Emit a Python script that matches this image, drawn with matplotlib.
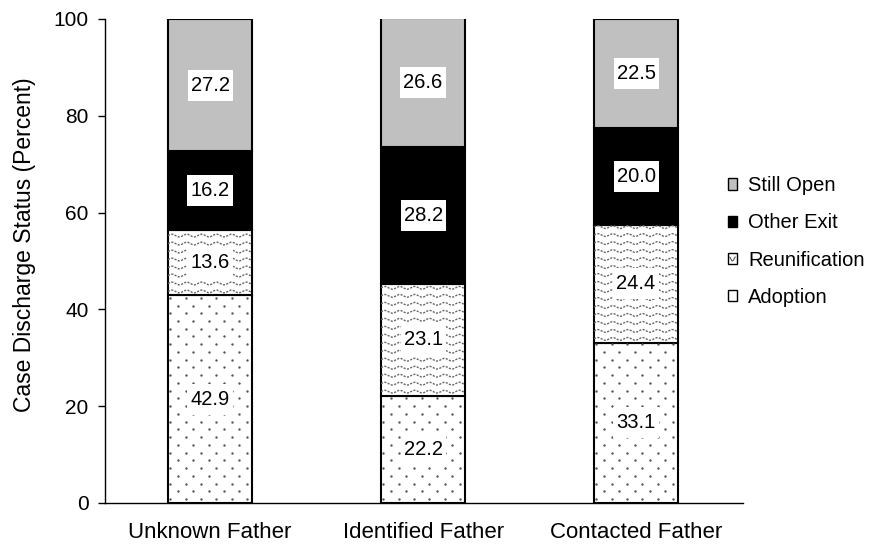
import numpy as np
import matplotlib.pyplot as plt
from matplotlib.patches import Patch, Rectangle
from matplotlib.lines import Line2D
from matplotlib.path import Path
from matplotlib.legend_handler import HandlerBase

plt.rcParams['font.family'] = ['Liberation Sans', 'DejaVu Sans']

groups = ['Unknown Father', 'Identified Father', 'Contacted Father']
adoption = [42.9, 22.2, 33.1]
reunification = [13.6, 23.1, 24.4]
other_exit = [16.2, 28.2, 20.0]
still_open = [27.2, 26.6, 22.5]

fig = plt.figure(figsize=(8.71, 5.5), dpi=100)
ax = fig.add_axes([0.1206, 0.0855, 0.7325, 0.88])

x = np.arange(len(groups))
w = 0.394
bottom = np.zeros(len(groups))

# adoption: white bars filled with a staggered grid of small grey dots
b_ad = ax.bar(x, adoption, w, bottom=bottom, color='white', edgecolor='black',
              linewidth=1.5, zorder=2)
for rect, h in zip(b_ad, adoption):
    x0 = rect.get_x()
    for k, yy in enumerate(np.arange(0.8, h, 1.6)):
        xs = np.arange(x0 + 0.01 + (k % 2) * 0.036, x0 + w, 0.072)
        pts = ax.scatter(xs, np.full(len(xs), yy), s=3, color='#555555',
                         linewidths=0, zorder=2.5)
        pts.set_clip_path(rect)
bottom += adoption

# reunification: wavy grey lines clipped to each bar
b_re = ax.bar(x, reunification, w, bottom=bottom, color='white', edgecolor='black',
              linewidth=1.5, zorder=2)
for rect, b0, h in zip(b_re, bottom, reunification):
    xx = np.linspace(rect.get_x(), rect.get_x() + w, 200)
    for yy in np.arange(b0 + 0.8, b0 + h + 1, 1.65):
        line, = ax.plot(xx, yy + 0.28 * np.sin(2 * np.pi * (xx - rect.get_x()) / 0.07),
                        color='#666666', lw=1.0, ls=(0, (1.5, 1)), zorder=2.5)
        line.set_clip_path(rect)
bottom += reunification

b_oe = ax.bar(x, other_exit, w, bottom=bottom, color='black', edgecolor='black',
              linewidth=1.5, zorder=2)
bottom += other_exit

b_so = ax.bar(x, still_open, w, bottom=bottom, color='#C0C0C0', edgecolor='black',
              linewidth=1.5, zorder=2)


def label_box(x0, y0, width, height, mutation_size):
    # white box, narrow at the sides and taller above and below
    px, py = 0.15 * mutation_size, 0.3 * mutation_size
    return Path([(x0 - px, y0 - py), (x0 + width + px, y0 - py),
                 (x0 + width + px, y0 + height + py), (x0 - px, y0 + height + py),
                 (x0 - px, y0 - py)], closed=True)


base = np.zeros(len(groups))
for vals in [adoption, reunification, other_exit, still_open]:
    for i, v in enumerate(vals):
        ax.text(x[i], base[i] + v / 2, f'{v:.1f}', ha='center', va='center',
                fontsize=14.5, zorder=5,
                bbox=dict(boxstyle=label_box, facecolor='white', edgecolor='none'))
    base += vals

ax.set_xlim(-0.493, 2.502)
ax.set_ylim(0, 100)
ax.set_yticks([0, 20, 40, 60, 80, 100])
ax.set_xticks(x)
ax.set_xticklabels(groups, fontsize=16)
ax.tick_params(axis='y', labelsize=15, direction='out', length=5, width=1, pad=7)
ax.tick_params(axis='x', length=0, pad=14)
ax.set_ylabel('Case Discharge Status (Percent)', fontsize=16.5, va='center')
ax.yaxis.set_label_coords(-0.127, 0.533)
for s in ['top', 'right']:
    ax.spines[s].set_visible(False)
for s in ['left', 'bottom']:
    ax.spines[s].set_linewidth(1)


class WaveSquare(HandlerBase):
    def create_artists(self, legend, orig_handle, xdescent, ydescent,
                       width, height, fontsize, trans):
        r = Rectangle((-xdescent, -ydescent), width, height, facecolor='white',
                      edgecolor='black', lw=1, transform=trans)
        xs = np.linspace(-xdescent + 1.5, -xdescent + width - 1.5, 20)
        ys = -ydescent + height * 0.45 + height * 0.18 * np.sin(xs / width * 2 * np.pi * 1.5)
        ln = Line2D(xs, ys, color='#555555', lw=0.8, transform=trans)
        return [r, ln]


wave_handle = Patch(facecolor='white', edgecolor='black', label='Reunification')
handles = [Patch(facecolor='#C0C0C0', edgecolor='black', label='Still Open'),
           Patch(facecolor='black', edgecolor='black', label='Other Exit'),
           wave_handle,
           Patch(facecolor='white', edgecolor='black', label='Adoption')]
fig.legend(handles=handles, loc='center left', bbox_to_anchor=(0.8146, 0.561),
           frameon=False, fontsize=14.5, handlelength=0.48, handleheight=0.48,
           handletextpad=0.55, labelspacing=0.9,
           handler_map={wave_handle: WaveSquare()})

fig.savefig('out.png', dpi=100)
